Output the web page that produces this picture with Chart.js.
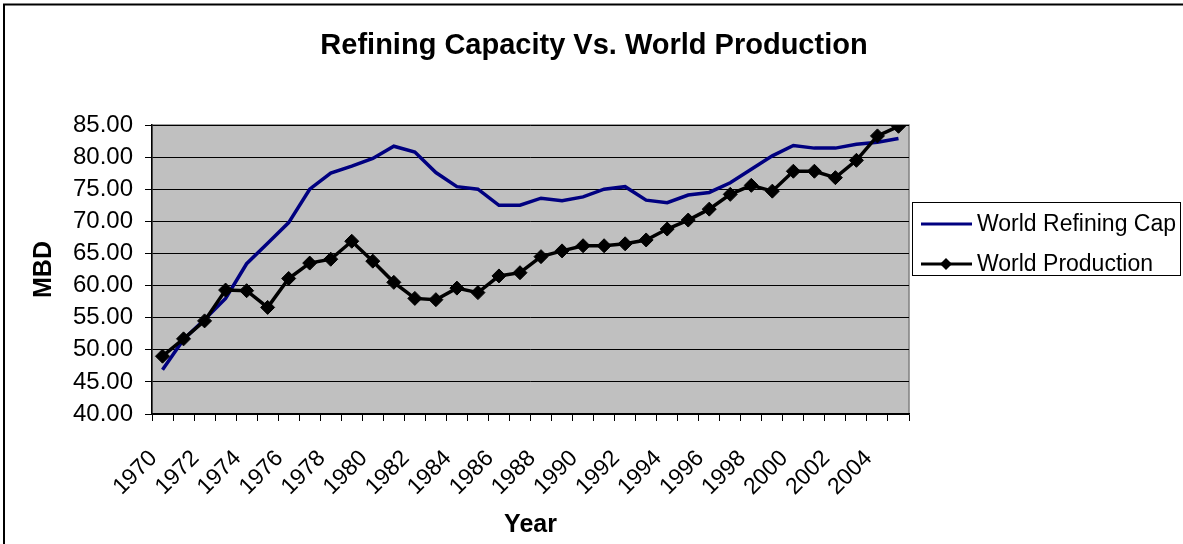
<!DOCTYPE html>
<html>
<head>
<meta charset="utf-8">
<script src="https://cdn.jsdelivr.net/npm/chart.js@4/dist/chart.umd.min.js"></script>
<style>
  body { margin: 0; background: #fff; }
  #wrap { width: 1183px; height: 544px; }
</style>
</head>
<body>
<div id="wrap"><canvas id="myChart" width="1183" height="544"></canvas></div>
<script>
"use strict";
// Data
const years = [];
for (let y = 1970; y <= 2005; y++) years.push(String(y));

const refiningCap = [46.9, 51.6, 54.7, 58.0, 63.4, 66.6, 69.8, 75.0, 77.5, 78.6,
    79.8, 81.7, 80.8, 77.6, 75.4, 75.0, 72.5, 72.5, 73.6, 73.2,
    73.8, 75.0, 75.4, 73.3, 72.9, 74.1, 74.5, 76.0, 78.1, 80.2,
    81.8, 81.4, 81.4, 82.0, 82.3, 82.9];

const worldProduction = [49.0, 51.7, 54.5, 59.3, 59.2, 56.6, 61.1, 63.5, 64.1, 66.9,
    63.8, 60.5, 58.0, 57.8, 59.6, 58.9, 61.5, 62.0, 64.5, 65.4,
    66.2, 66.2, 66.5, 67.1, 68.8, 70.2, 71.9, 74.2, 75.6, 74.7,
    77.8, 77.8, 76.8, 79.5, 83.3, 84.8];

const yTicks = [40, 45, 50, 55, 60, 65, 70, 75, 80, 85];

const chartTitle = 'Refining Capacity Vs. World Production';
const FONT = "'Liberation Sans', Arial, sans-serif";

// plot background, outer border, title and legend
const excelLook = {
    id: 'excelLook',
    beforeDraw(chart) {
        const {ctx, chartArea: a} = chart;
        ctx.save();
        ctx.fillStyle = '#c0c0c0';
        ctx.fillRect(a.left, a.top, a.right - a.left, a.bottom - a.top);
        ctx.strokeStyle = '#808080';
        ctx.lineWidth = 1.5;
        ctx.strokeRect(a.left, a.top, a.right - a.left, a.bottom - a.top);
        ctx.restore();
    },
    afterDraw(chart) {
        const ctx = chart.ctx;
        ctx.save();
        // outer border (only top and left show)
        ctx.strokeStyle = '#000';
        ctx.lineWidth = 2;
        ctx.beginPath();
        ctx.moveTo(4, 544);
        ctx.lineTo(4, 4.5);
        ctx.lineTo(1183, 4.5);
        ctx.stroke();

        // title, centred on the whole chart
        ctx.fillStyle = '#000';
        ctx.font = 'bold 29px ' + FONT;
        ctx.textAlign = 'center';
        ctx.textBaseline = 'middle';
        ctx.fillText(chartTitle, 594, 46);

        // legend
        ctx.textAlign = 'left';
        ctx.lineWidth = 1;
        ctx.strokeRect(912.5, 202.5, 268, 73);
        const items = [
            {text: 'World Refining Cap', color: '#000080', y: 224, marker: false},
            {text: 'World Production', color: '#000000', y: 264, marker: true}
        ];
        ctx.font = '23px ' + FONT;
        items.forEach(it => {
            ctx.strokeStyle = it.color;
            ctx.lineWidth = 3;
            ctx.beginPath();
            ctx.moveTo(921, it.y);
            ctx.lineTo(972, it.y);
            ctx.stroke();
            if (it.marker) {
                ctx.fillStyle = it.color;
                ctx.beginPath();
                ctx.moveTo(946, it.y - 6);
                ctx.lineTo(952, it.y);
                ctx.lineTo(946, it.y + 6);
                ctx.lineTo(940, it.y);
                ctx.closePath();
                ctx.fill();
            }
            ctx.fillStyle = '#000';
            ctx.fillText(it.text, 977, it.y + 1);
        });
        ctx.restore();
    }
};

const data = {
    labels: years,
    datasets: [
        {
            label: 'World Refining Cap',
            data: refiningCap,
            borderColor: '#000080',
            borderWidth: 3.5,
            pointRadius: 0,
            tension: 0,
            order: 2
        },
        {
            label: 'World Production',
            data: worldProduction,
            borderColor: '#000000',
            backgroundColor: '#000000',
            borderWidth: 3.5,
            pointStyle: 'rectRot',
            pointRadius: 7,
            pointBorderWidth: 1,
            tension: 0,
            order: 1
        }
    ]
};

const config = {
    type: 'line',
    data: data,
    plugins: [excelLook],
    options: {
        responsive: false,
        animation: false,
        layout: { padding: { left: 0, right: 274, top: 125, bottom: 0 } },
        plugins: {
            legend: { display: false },
            tooltip: { enabled: false },
            title: { display: false }
        },
        scales: {
            x: {
                offset: true,
                afterFit(scale) { scale.height = 130; },
                grid: {
                    offset: true,
                    drawOnChartArea: false,
                    color: '#000',
                    tickLength: 7,
                    tickColor: '#000'
                },
                border: { color: '#000', width: 1.5 },
                ticks: {
                    autoSkip: false,
                    maxRotation: 45,
                    minRotation: 45,
                    color: '#000',
                    padding: 24,
                    labelOffset: -9,
                    font: { family: FONT, size: 23 },
                    callback: function (val, i) {
                        return i % 2 === 0 ? this.getLabelForValue(val) : '';
                    }
                },
                title: {
                    display: true,
                    text: 'Year',
                    color: '#000',
                    font: { family: FONT, size: 25, weight: 'bold' },
                    padding: { top: 0, bottom: 4 }
                }
            },
            y: {
                min: 40,
                max: 85,
                afterFit(scale) { scale.width = 152; },
                afterBuildTicks(scale) {
                    scale.ticks = yTicks.map(v => ({ value: v }));
                },
                grid: {
                    color: '#000',
                    lineWidth: 1,
                    tickLength: 7,
                    tickColor: '#000'
                },
                border: { color: '#000', width: 1.5 },
                ticks: {
                    color: '#000',
                    padding: 12,
                    font: { family: FONT, size: 24 },
                    callback: v => Number(v).toFixed(2)
                },
                title: {
                    display: true,
                    text: 'MBD',
                    color: '#000',
                    font: { family: FONT, size: 25, weight: 'bold' },
                    padding: { top: 29, bottom: 0 }
                }
            }
        }
    }
};

const myChart = new Chart(document.getElementById('myChart'), config);
</script>
</body>
</html>
